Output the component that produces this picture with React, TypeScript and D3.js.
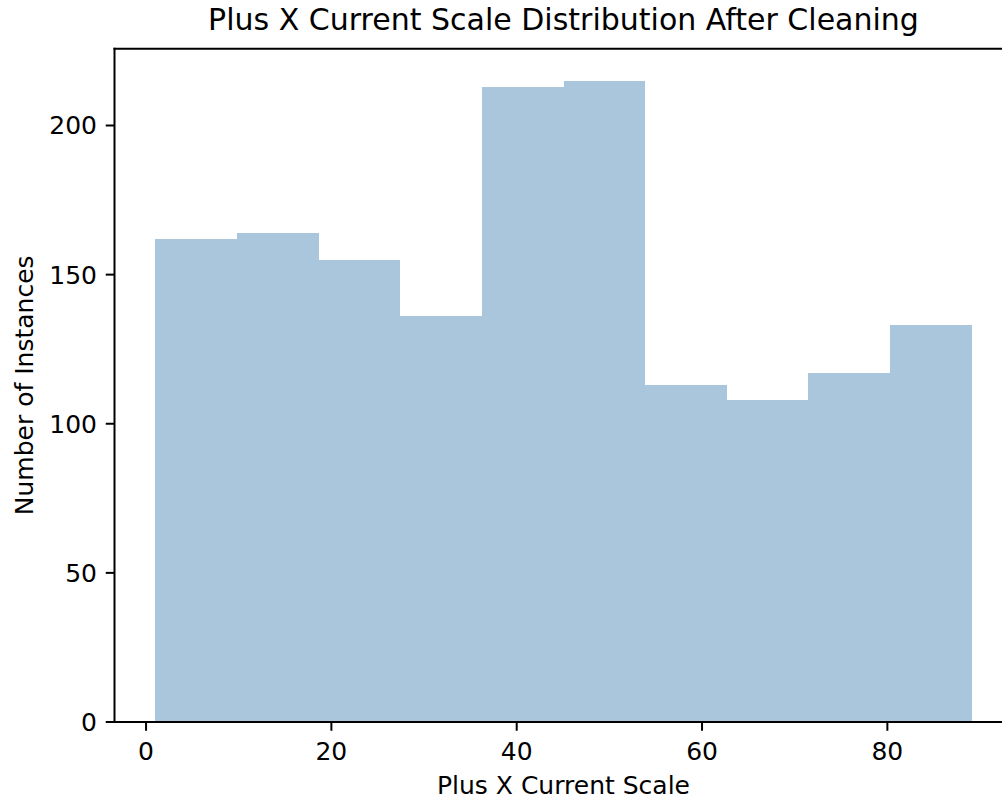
import React from "react";
import * as d3 from "d3";

const binEdges = [1.0, 9.81, 18.62, 27.43, 36.24, 45.05, 53.86, 62.67, 71.48, 80.29, 89.1];
const counts = [162, 164, 155, 136, 213, 215, 113, 108, 117, 133];
const xTicks = [0, 20, 40, 60, 80];
const yTicks = [0, 50, 100, 150, 200];
const title = "Plus X Current Scale Distribution After Cleaning";
const xLabel = "Plus X Current Scale";
const yLabel = "Number of Instances";

const W = 1002;
const H = 803;
const left = 114.5;
const right = 1012.5;
const top = 48.7;
const bottom = 722;
const font = "'DejaVu Sans', sans-serif";

export default function App() {
  const xMin = binEdges[0];
  const xMax = binEdges[binEdges.length - 1];
  const pad = (xMax - xMin) * 0.05;
  const x = d3.scaleLinear().domain([xMin - pad, xMax + pad]).range([left, right]);
  const yMax = (d3.max(counts) as number) * 1.05;
  const y = d3.scaleLinear().domain([0, yMax]).range([bottom, top]);
  const bins = counts.map((c, i) => ({ x0: binEdges[i], x1: binEdges[i + 1], c }));
  const tickLen = 8.75;

  return (
    <svg
      width={W}
      height={H}
      style={{ position: "absolute", left: 0, top: 0, background: "#fff" }}
      fontFamily={font}
    >
      <rect x={0} y={0} width={W} height={H} fill="#fff" />
      <g>
        {bins.map((b, i) => (
          <rect
            key={i}
            x={x(b.x0)}
            y={y(b.c)}
            width={x(b.x1) - x(b.x0)}
            height={y(0) - y(b.c)}
            fill="#aac6dd"
            shapeRendering="crispEdges"
          />
        ))}
      </g>
      {/* spines */}
      <line x1={left} x2={left} y1={top} y2={bottom} stroke="#000" strokeWidth={2} strokeLinecap="square" />
      <line x1={left} x2={right} y1={bottom} y2={bottom} stroke="#000" strokeWidth={2} strokeLinecap="square" />
      <line x1={left} x2={right} y1={top} y2={top} stroke="#000" strokeWidth={2} strokeLinecap="square" />
      <line x1={right} x2={right} y1={top} y2={bottom} stroke="#000" strokeWidth={2} />
      {/* x ticks */}
      {xTicks.map((t) => (
        <g key={"x" + t}>
          <line x1={x(t)} x2={x(t)} y1={bottom} y2={bottom + tickLen} stroke="#000" strokeWidth={2} />
          <text x={x(t)} y={760} textAnchor="middle" fontSize={25} fill="#000">
            {t}
          </text>
        </g>
      ))}
      {/* y ticks */}
      {yTicks.map((t) => (
        <g key={"y" + t}>
          <line x1={left - tickLen} x2={left} y1={y(t)} y2={y(t)} stroke="#000" strokeWidth={2} />
          <text x={97} y={y(t) + 9} textAnchor="end" fontSize={25} fill="#000">
            {t}
          </text>
        </g>
      ))}
      <text x={(left + right) / 2} y={794} textAnchor="middle" fontSize={25} fill="#000">
        {xLabel}
      </text>
      <text
        transform={`translate(33, ${(top + bottom) / 2}) rotate(-90)`}
        textAnchor="middle"
        fontSize={25}
        fill="#000"
      >
        {yLabel}
      </text>
      <text x={(left + right) / 2} y={30} textAnchor="middle" fontSize={30} fill="#000">
        {title}
      </text>
    </svg>
  );
}
